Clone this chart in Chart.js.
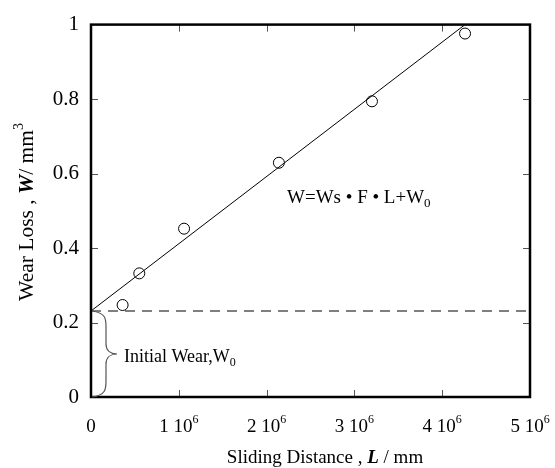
<!DOCTYPE html>
<html>
<head>
<meta charset="utf-8">
<script src="https://cdn.jsdelivr.net/npm/chart.js@4/dist/chart.umd.min.js"></script>
<style>
  html, body { margin: 0; padding: 0; background: #fff; }
  #wrap { width: 555px; height: 468px; }
</style>
</head>
<body>
<div id="wrap"><canvas id="chart" width="555" height="468"></canvas></div>
<script>
// measured wear loss
const distances = [0.36e6, 0.55e6, 1.06e6, 2.14e6, 3.2e6, 4.26e6];
const wearLoss = [0.247, 0.332, 0.452, 0.629, 0.794, 0.976];

// fitted line W = Ws*F*L + W0
const fitL = [0, 4.26e6];
const fitW = [0.231, 1.0];
const initialWear = 0.231;

const xTicks = [0, 1e6, 2e6, 3e6, 4e6, 5e6];
const xTickLabels = ['0', '1 10', '2 10', '3 10', '4 10', '5 10'];
const yTicks = [0, 0.2, 0.4, 0.6, 0.8, 1];
const yTickLabels = ['0', '0.2', '0.4', '0.6', '0.8', '1'];

const serif = '"Liberation Serif", "Times New Roman", serif';

function seg(ctx, x1, y1, x2, y2) {
  ctx.beginPath();
  ctx.moveTo(x1, y1);
  ctx.lineTo(x2, y2);
  ctx.stroke();
}

// draw a run of [text, font, dy] pieces starting at x
function runs(ctx, parts, x, y) {
  parts.forEach(p => {
    ctx.font = p[1];
    ctx.fillText(p[0], x, y + (p[2] || 0));
    x += ctx.measureText(p[0]).width;
  });
}
function runsWidth(ctx, parts) {
  let w = 0;
  parts.forEach(p => { ctx.font = p[1]; w += ctx.measureText(p[0]).width; });
  return w;
}

const frame = {
  id: 'frame',
  afterDraw(chart) {
    const { ctx, chartArea: a, scales: { x, y } } = chart;
    ctx.save();

    // inward tick marks on all sides
    ctx.strokeStyle = '#555';
    ctx.lineWidth = 1;
    xTicks.forEach(v => {
      if (v <= 0 || v >= 5e6) return;
      const px = Math.round(x.getPixelForValue(v)) + 0.5;
      seg(ctx, px, a.bottom, px, a.bottom - 7);
      seg(ctx, px, a.top, px, a.top + 7);
    });
    yTicks.forEach(v => {
      if (v <= 0 || v >= 1) return;
      const py = Math.round(y.getPixelForValue(v)) + 0.5;
      seg(ctx, a.left, py, a.left + 7, py);
      seg(ctx, a.right, py, a.right - 7, py);
    });

    // box
    ctx.strokeStyle = '#000';
    ctx.lineWidth = 2.5;
    ctx.strokeRect(a.left, a.top, a.right - a.left, a.bottom - a.top);

    ctx.fillStyle = '#000';
    ctx.textBaseline = 'alphabetic';
    ctx.textAlign = 'left';

    // x tick labels with superscript exponent
    xTicks.forEach((v, i) => {
      const parts = v === 0 ? [[xTickLabels[i], '19px ' + serif]]
        : [[xTickLabels[i], '19px ' + serif], ['6', '12px ' + serif, -9]];
      const w = runsWidth(ctx, parts);
      runs(ctx, parts, x.getPixelForValue(v) - w / 2, 432);
    });

    // x title
    const xt = [['Sliding Distance , ', '19px ' + serif],
                ['L', 'italic bold 19px ' + serif],
                [' / mm', '19px ' + serif]];
    runs(ctx, xt, 325 - runsWidth(ctx, xt) / 2, 463);

    // y title
    const yt = [['Wear Loss , ', '21.5px ' + serif],
                ['W', 'italic bold 21.5px ' + serif],
                ['/ mm', '21.5px ' + serif],
                ['3', '14px ' + serif, -10]];
    ctx.save();
    ctx.translate(33, 212);
    ctx.rotate(-Math.PI / 2);
    runs(ctx, yt, -runsWidth(ctx, yt) / 2, 0);
    ctx.restore();

    // equation
    runs(ctx, [['W=Ws \u2022 F \u2022 L+W', '19px ' + serif],
               ['0', '13px ' + serif, 4]], 287, 203);

    // initial wear label
    runs(ctx, [['Initial Wear,W', '18px ' + serif],
               ['0', '12px ' + serif, 4]], 124, 362);

    // curly brace from 0 to W0
    const bx = a.left + 1;
    const yTop = y.getPixelForValue(initialWear);
    const yBot = y.getPixelForValue(0);
    const ym = (yTop + yBot) / 2;
    ctx.strokeStyle = '#555';
    ctx.lineWidth = 1.2;
    ctx.beginPath();
    ctx.moveTo(bx, yTop);
    ctx.bezierCurveTo(bx + 14, yTop + 2, bx + 14, yTop + 8, bx + 14, yTop + 16);
    ctx.lineTo(bx + 14, ym - 10);
    ctx.bezierCurveTo(bx + 14, ym - 3, bx + 19, ym, bx + 25, ym);
    ctx.bezierCurveTo(bx + 19, ym, bx + 14, ym + 3, bx + 14, ym + 10);
    ctx.lineTo(bx + 14, yBot - 16);
    ctx.bezierCurveTo(bx + 14, yBot - 8, bx + 14, yBot - 2, bx, yBot);
    ctx.stroke();

    ctx.restore();
  }
};

new Chart(document.getElementById('chart'), {
  type: 'scatter',
  data: {
    datasets: [
      {
        label: 'Measured',
        data: distances.map((d, i) => ({ x: d, y: wearLoss[i] })),
        pointStyle: 'circle',
        pointRadius: 5.5,
        borderColor: '#000',
        borderWidth: 1,
        backgroundColor: 'rgba(0,0,0,0)',
        order: 0
      },
      {
        label: 'Fit',
        type: 'line',
        data: fitL.map((d, i) => ({ x: d, y: fitW[i] })),
        borderColor: '#000',
        borderWidth: 1,
        pointRadius: 0,
        fill: false,
        order: 1
      },
      {
        label: 'W0',
        type: 'line',
        data: [{ x: 0, y: initialWear }, { x: 5e6, y: initialWear }],
        borderColor: '#000',
        borderWidth: 1.2,
        borderDash: [10, 7],
        pointRadius: 0,
        fill: false,
        order: 2
      }
    ]
  },
  options: {
    responsive: false,
    animation: false,
    layout: { padding: { left: 0, top: 24, right: 25, bottom: 0 } },
    plugins: { legend: { display: false }, tooltip: { enabled: false } },
    scales: {
      x: {
        type: 'linear',
        min: 0,
        max: 5e6,
        afterBuildTicks: s => { s.ticks = xTicks.map(v => ({ value: v })); },
        afterFit: s => { s.height = 71; },
        ticks: { display: false },
        grid: { display: false },
        border: { display: false }
      },
      y: {
        min: 0,
        max: 1,
        afterBuildTicks: s => { s.ticks = yTicks.map(v => ({ value: v })); },
        afterFit: s => { s.width = 91; },
        ticks: {
          color: '#000',
          padding: 12,
          font: { family: serif, size: 21 },
          callback: (v, i) => yTickLabels[i]
        },
        grid: { display: false, drawTicks: false },
        border: { display: false }
      }
    }
  },
  plugins: [frame]
});
</script>
</body>
</html>
